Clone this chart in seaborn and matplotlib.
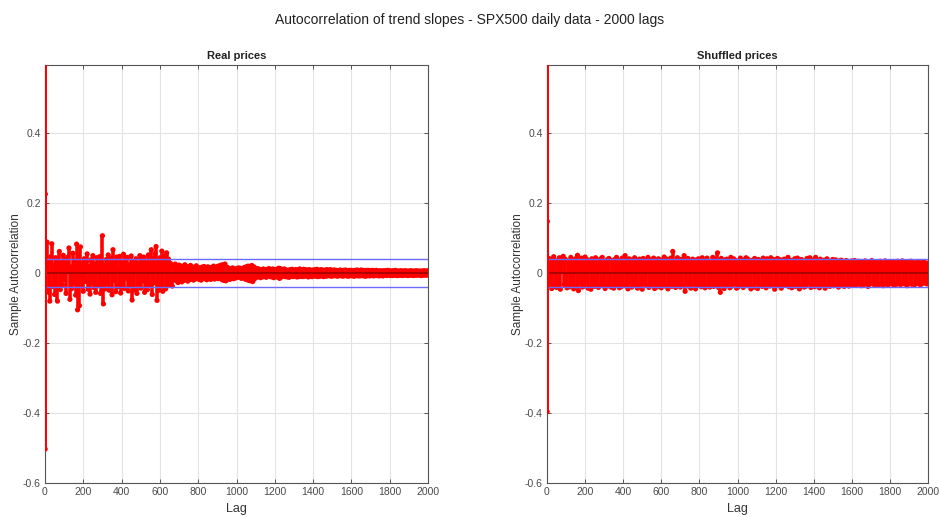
import numpy as np
import pandas as pd
import matplotlib
matplotlib.use("Agg")
import matplotlib.pyplot as plt
import seaborn as sns

# ---------------- data (autocorrelation values) ----------------
# first lags, read individually
real_head_lags = [0, 1, 2]
real_head_vals = [1.0, -0.503, 0.226]
shuf_head_lags = [0, 1, 2, 3]
shuf_head_vals = [1.0, -0.396, 0.148, -0.020]

# dense part: one estimated value every 5 lags (lags 5..2000), in thousandths
step_lags = list(range(5, 2001, 5))

real_acf_milli = [
    -42, 89, 31, -55, -80, 47, 84, -38, 22, -61,
    44, 36, -80, 12, 62, -47, 29, -33, 51, -18,
    40, -58, 25, 46, 72, -75, 18, -44, 57, -29,
    35, -63, 83, -105, 49, -93, 75, -37, 28, -52,
    41, -24, 33, 55, -46, 19, -60, 38, -27, 50,
    -41, 26, -55, 44, 15, -36, 47, -58, 31, 107,
    -88, 22, -45, 39, -30, 52, -49, 17, 43, -62,
    67, -21, 34, -53, 46, 12, -39, 48, -57, 29,
    -26, 54, -44, 37, -15, 45, -51, 24, -35, 49,
    -77, 33, -48, 20, 41, -58, 27, -31, 50, -43,
    38, -22, 46, -55, 30, 14, -47, 52, -34, 25,
    67, -61, 42, -28, 56, 76, -78, 35, -49, 44,
    -38, 63, -52, 29, 48, -45, 58, -36, 40, -33,
    28, -24, -37, 21, -18, 26, -22, 15, -27, 23,
    -16, 20, -25, 18, -21, 24, -14, 19, -23, 17,
    -19, 22, -15, 18, -20, 14, -17, 21, -13, 16,
    -18, 15, -20, 17, -12, 19, -16, 14, -19, 18,
    -13, 16, -18, 12, -15, 20, -17, 13, -14, 19,
    -16, 21, -12, 23, -19, 24, -21, 26, -22, 17,
    -15, 14, -18, 12, -13, 15, -16, 11, -14, 13,
    -12, 15, -11, 14, -15, 12, -13, 16, -17, 18,
    -19, 20, -21, 19, -22, 22, -24, 18, -16, 14,
    -12, 13, -10, 11, -13, 9, -11, 12, -9, 10,
    -12, 11, -8, 13, -10, 9, -11, 12, -13, 10,
    -9, 11, -12, 14, -15, 13, -11, 10, -9, 12,
    -10, 9, -11, 8, -12, 10, -9, 11, -10, 9,
    -8, 10, -11, 9, -10, 12, -9, 8, -10, 11,
    -9, 10, -8, 9, -11, 10, -9, 8, -10, 9,
    -8, 10, -9, 11, -10, 8, -9, 10, -8, 9,
    -10, 8, -9, 10, -8, 9, -7, 10, -9, 8,
    -8, 9, -7, 8, -9, 7, -8, 9, -7, 8,
    -9, 8, -7, 9, -8, 7, -9, 8, -7, 8,
    -8, 7, -9, 8, -7, 9, -8, 7, -8, 9,
    -7, 8, -8, 7, -9, 8, -7, 8, -8, 7,
    -7, 8, -8, 7, -7, 8, -7, 6, -8, 7,
    -7, 6, -8, 7, -6, 7, -7, 8, -6, 7,
    -7, 6, -7, 7, -6, 8, -7, 6, -7, 6,
    -6, 7, -7, 6, -6, 7, -6, 6, -7, 6,
    -6, 7, -6, 6, -7, 6, -6, 7, -6, 6,
    -6, 6, -7, 6, -6, 7, -6, 6, -6, 7,
]

shuf_acf_milli = [
    -35, 42, -28, 39, -44, 31, 47, -38, 25, -41,
    36, -30, 44, -46, 22, 38, 48, -33, 40, -27,
    -42, 35, 29, -39, 45, -31, 37, -45, 26, 41,
    -36, 51, -50, 33, -28, 43, -40, 30, -37, 46,
    -24, 39, -43, 34, 28, -46, 41, -32, 37, -38,
    44, -29, 35, -41, 23, 40, -35, 45, -30, 33,
    -44, 27, 38, -36, 42, -25, -40, 36, 31, -43,
    39, -34, 45, -28, 26, -42, 37, -39, 43, -31,
    29, 50, -37, 34, -45, 41, -26, 38, -40, 32,
    -35, 44, -29, 36, -43, 27, 40, -38, 33, -46,
    42, -30, 37, -34, 25, 45, -41, 31, -36, 39,
    -27, 43, -44, 35, 29, -39, 41, -33, 38, -42,
    34, -28, 46, -37, 24, 40, -45, 36, -31, 43,
    -38, 62, -34, 30, -41, 37, 44, -29, 35, -40,
    39, -36, 28, 50, -52, 33, -27, 42, -38, 31,
    -43, 36, 40, -32, 26, -45, 38, -35, 41, -30,
    35, -39, 44, -28, 31, -42, 37, 43, -36, 29,
    -40, 34, -26, 45, -38, 39, -33, 30, 58, -41,
    36, -55, 42, -31, 27, -44, 38, -35, 40, -29,
    33, -42, 45, -37, 28, 41, -30, 36, -43, 34,
    -39, 26, 43, -34, 38, -41, 31, -28, 44, -36,
    40, -32, 35, -45, 29, 37, -40, 42, -27, 33,
    -44, 39, -31, 36, 25, -38, 43, -35, 30, -42,
    41, -29, 34, -37, 44, -33, 28, 39, -46, 35,
    -30, 42, -36, 27, 38, -43, 33, -28, 40, -35,
    37, -31, 45, -39, 29, 36, -42, 34, -27, 41,
    -38, 32, 43, -36, -45, 30, 39, -33, 35, -40,
    28, -37, 42, -29, 36, 44, -41, 31, -34, 38,
    -39, 45, -30, 35, 27, -42, 40, -36, 33, -28,
    37, -43, 30, 41, -35, 29, -38, 34, -31, 39,
    -36, 31, 38, -33, 27, -40, 35, -29, 37, -34,
    32, -38, 28, 36, -31, 34, -37, 26, -30, 35,
    -33, 29, 36, -35, 25, -32, 34, -28, 31, -36,
    30, -34, 27, 35, -29, 33, -38, 28, -31, 32,
    36, -30, 26, -35, 33, -27, 31, -33, 29, 34,
    -32, 28, -36, 30, 35, -29, 27, -34, 32, -30,
    33, -28, 29, -35, 31, 26, -32, 34, -27, 30,
    -33, 29, 35, -30, 27, -31, 32, -36, 28, 31,
    -29, 34, -32, 26, 30, -33, 28, -30, 33, -27,
    31, -34, 27, 30, -29, 32, -28, 26, -31, 29,
]

conf_bound = 0.04
panel_titles = ["Real prices", "Shuffled prices"]
suptitle = "Autocorrelation of trend slopes - SPX500 daily data - 2000 lags"
x_ticks = [0, 200, 400, 600, 800, 1000, 1200, 1400, 1600, 1800, 2000]
y_ticks = [-0.6, -0.4, -0.2, 0, 0.2, 0.4]
y_tick_labels = ["-0.6", "-0.4", "-0.2", "0", "0.2", "0.4"]

# ---------------- build tables ----------------
def build(head_lags, head_vals, milli):
    lags = list(head_lags) + step_lags
    vals = list(head_vals) + [m / 1000.0 for m in milli]
    return pd.DataFrame({"Lag": lags, "ACF": vals})

heads = [(real_head_lags, real_head_vals), (shuf_head_lags, shuf_head_vals)]
frames = [build(real_head_lags, real_head_vals, real_acf_milli),
          build(shuf_head_lags, shuf_head_vals, shuf_acf_milli)]

# ---------------- plot ----------------
sns.set_theme(style="white")
plt.rcParams["font.family"] = ["Liberation Sans", "DejaVu Sans"]

fig = plt.figure(figsize=(9.4, 5.17), dpi=100)
positions = [[45/940, 1-483/517, 383/940, 418/517],
             [547/940, 1-483/517, 381/940, 418/517]]

red = "#ff0000"
for pos, df, (hl, hv), title in zip(positions, frames, heads, panel_titles):
    ax = fig.add_axes(pos)
    ax.set_xlim(0, 2000)
    ax.set_ylim(-0.6, 0.595)
    ax.grid(True, color="#e3e3e3", linewidth=0.8)
    ax.set_axisbelow(True)
    # stems
    ax.vlines(df["Lag"], 0, df["ACF"], color=red, linewidth=2.6, zorder=2)
    # first-lag stems drawn above the spine
    ax.vlines(hl, 0, hv, color=red, linewidth=2.0, zorder=6)
    # markers
    sns.scatterplot(data=df, x="Lag", y="ACF", ax=ax, color=red, s=14,
                    edgecolor="none", linewidth=0, zorder=3, clip_on=True)
    # baseline and confidence bounds
    ax.axhline(0, color="#a00000", linewidth=1.2, zorder=4)
    ax.axhline(conf_bound, color="#6b6bff", linewidth=1.0, zorder=4)
    ax.axhline(-conf_bound, color="#6b6bff", linewidth=1.0, zorder=4)

    ax.set_xticks(x_ticks)
    ax.set_yticks(y_ticks)
    ax.set_yticklabels(y_tick_labels)
    ax.tick_params(axis="both", which="both", direction="in", length=3,
                   top=True, right=True, bottom=True, left=True,
                   labelsize=7.5, labelcolor="#4a4a4a", color="#555555", width=0.7, pad=3)
    for s in ax.spines.values():
        s.set_color("#555555")
        s.set_linewidth(0.8)
    ax.set_title(title, fontsize=8, fontweight="bold", color="#222222", pad=4)
    ax.set_xlabel("Lag", fontsize=9, color="#333333", labelpad=4)
    ax.set_ylabel("Sample Autocorrelation", fontsize=8.5, color="#333333", labelpad=0.5)

fig.suptitle(suptitle, fontsize=10, color="#222222", y=0.975)
fig.savefig("out.png", dpi=100)
